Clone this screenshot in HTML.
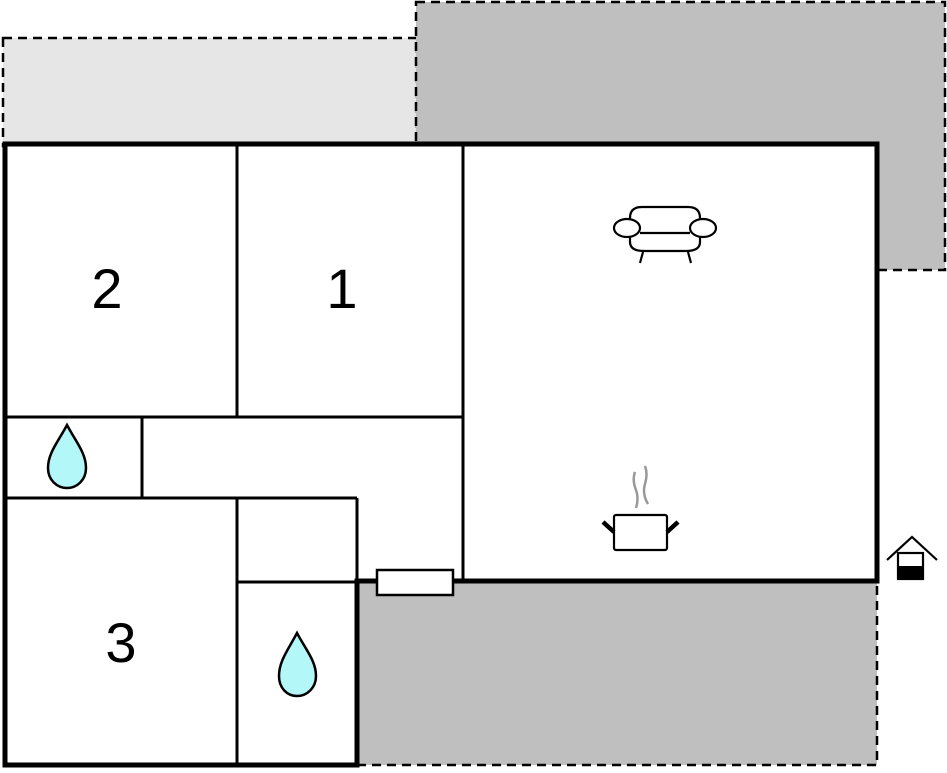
<!DOCTYPE html>
<html><head><style>html,body{margin:0;padding:0;background:#fff}</style></head><body>
<svg width="947" height="768" viewBox="0 0 947 768" xmlns="http://www.w3.org/2000/svg">
<rect x="3" y="38" width="414" height="108" fill="#e6e6e6" stroke="#000" stroke-width="2.5" stroke-dasharray="9,6"/>
<rect x="416" y="2" width="529" height="268" fill="#bfbfbf" stroke="#000" stroke-width="2.5" stroke-dasharray="9,6"/>
<rect x="357" y="581" width="520" height="184" fill="#bfbfbf" stroke="#000" stroke-width="2.5" stroke-dasharray="9,6"/>
<path d="M5,144 H877 V581 H357 V765 H5 Z" fill="#fff"/>
<g stroke="#000" stroke-width="3" fill="none">
<line x1="237" y1="144" x2="237" y2="417"/>
<line x1="463" y1="144" x2="463" y2="581"/>
<line x1="5" y1="417" x2="463" y2="417"/>
<line x1="142" y1="417" x2="142" y2="497"/>
<line x1="5" y1="498" x2="357" y2="498"/>
<line x1="237" y1="498" x2="237" y2="765"/>
<line x1="237" y1="582" x2="357" y2="582"/>
<line x1="357" y1="498" x2="357" y2="582"/>
</g>
<path d="M5,144 H877 V581 H357 V765 H5 Z" fill="none" stroke="#000" stroke-width="5"/>
<rect x="377" y="570" width="76" height="25" fill="#fff" stroke="#000" stroke-width="2.5"/>
<g font-family="Liberation Sans, sans-serif" font-size="56" text-anchor="middle">
<text x="107" y="308">2</text>
<text x="342" y="308">1</text>
<text x="121" y="662">3</text>
</g>
<g fill="#b3f7f8" stroke="#000" stroke-width="2.5">
<path d="M67,425 C58,442 48,453 48,468 C48,480 57,488 67,488 C77,488 86,480 86,468 C86,453 76,442 67,425 Z"/>
<path d="M297,633 C288,650 279,661 279,676 C279,688 287,696 297,696 C307,696 316,688 316,676 C316,661 306,650 297,633 Z"/>
</g>
<g stroke="#000" stroke-width="2.2" fill="#fff">
<path d="M630,230 V218 Q630,207 642,207 H688 Q700,207 700,218 V230"/>
<path d="M630,234 V242 Q630,251 644,251 H686 Q700,251 700,242 V234"/>
<line x1="640" y1="233" x2="690" y2="233"/>
<ellipse cx="627" cy="228" rx="13" ry="9"/>
<ellipse cx="703" cy="228" rx="13" ry="9"/>
<line x1="643" y1="252" x2="640" y2="263"/>
<line x1="688" y1="252" x2="691" y2="263"/>
<rect x="614" y="515" width="53" height="35" rx="2"/>
</g>
<g stroke="#000" stroke-width="4.5"><line x1="603" y1="522" x2="614" y2="532"/><line x1="678" y1="522" x2="667" y2="532"/></g>
<g stroke="#999" stroke-width="2.5" fill="none">
<path d="M635,472 Q632,480 636,490 Q639,498 636,508"/>
<path d="M645,466 Q648,474 645,484 Q642,494 648,504"/>
</g>
<g stroke="#000" stroke-width="2.2" fill="none">
<polyline points="887,560 912,537 937,560"/>
<rect x="898" y="553" width="25" height="26" fill="#fff"/>
</g>
<rect x="898" y="566" width="25" height="13" fill="#000"/>
</svg>
</body></html>
